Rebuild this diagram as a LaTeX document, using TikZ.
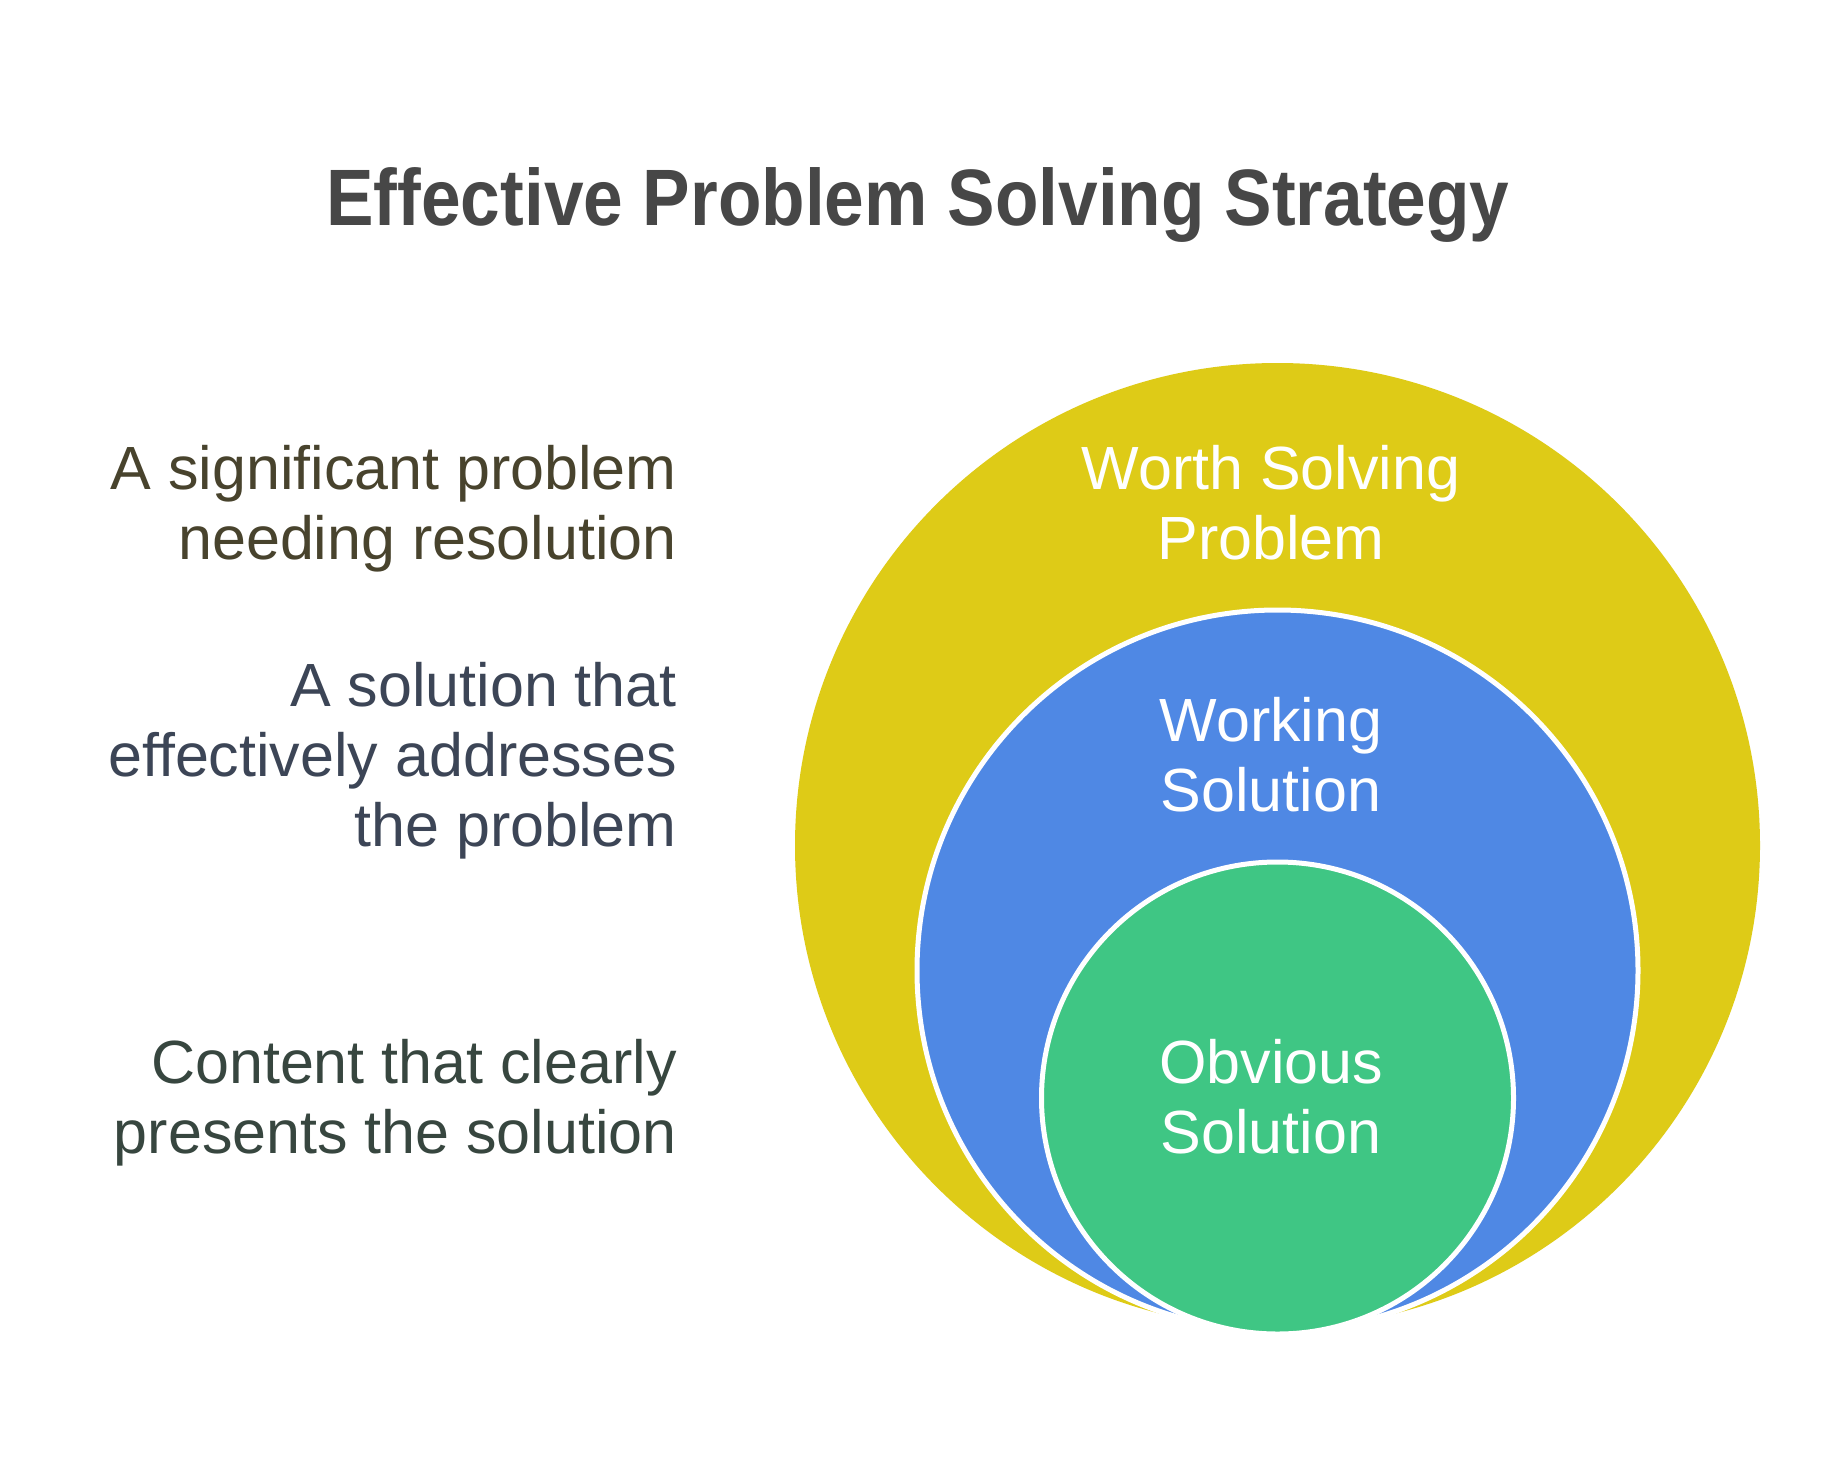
\documentclass[tikz,border=0pt]{standalone}
\usepackage{fontspec}
\setmainfont{Liberation Sans}
\definecolor{titlec}{RGB}{71,71,71}
\definecolor{txtA}{RGB}{72,67,45}
\definecolor{txtB}{RGB}{60,69,86}
\definecolor{txtC}{RGB}{55,70,63}
\definecolor{yelc}{RGB}{222,203,23}
\definecolor{bluc}{RGB}{79,136,228}
\definecolor{grnc}{RGB}{63,198,132}
\tikzset{
  bodytext/.style={font=\fontsize{61}{70}\selectfont, inner sep=0pt, align=right, anchor=base east},
  ringlabel/.style={font=\fontsize{61}{70}\selectfont, inner sep=0pt, align=center, anchor=base, text=white},
  ring/.style={circle, inner sep=0pt},
}
\begin{document}
\begin{tikzpicture}[x=1pt,y=-1pt]
\useasboundingbox[fill=white] (0,0) rectangle (1836,1477);
\node[font=\bfseries\fontsize{80}{90}\selectfont, text=titlec, inner sep=0pt, anchor=base] (title) at (918,225) {\scalebox{0.89}[1]{Effective Problem Solving Strategy}};
\node[ring, fill=yelc, minimum size=965pt] (outer) at (1277.5,845.5) {};
\node[ring, fill=bluc, draw=white, line width=5pt, minimum size=721pt] (mid) at (1277.5,970.5) {};
\node[ring, fill=grnc, draw=white, line width=5pt, minimum size=472pt] (inner) at (1277.5,1098) {};
\node[ringlabel] (lo) at (1271,559) {Worth Solving\\Problem};
\node[ringlabel] (lm) at (1271,811) {Working\\Solution};
\node[ringlabel] (li) at (1271,1153) {Obvious\\Solution};
\node[bodytext, text=txtA] (ta) at (677,559) {A significant problem\\needing resolution};
\node[bodytext, text=txtB] (tb) at (677,846) {A solution that\\effectively addresses\\the problem};
\node[bodytext, text=txtC] (tc) at (677,1153) {Content that clearly\\presents the solution};
\end{tikzpicture}
\end{document}
